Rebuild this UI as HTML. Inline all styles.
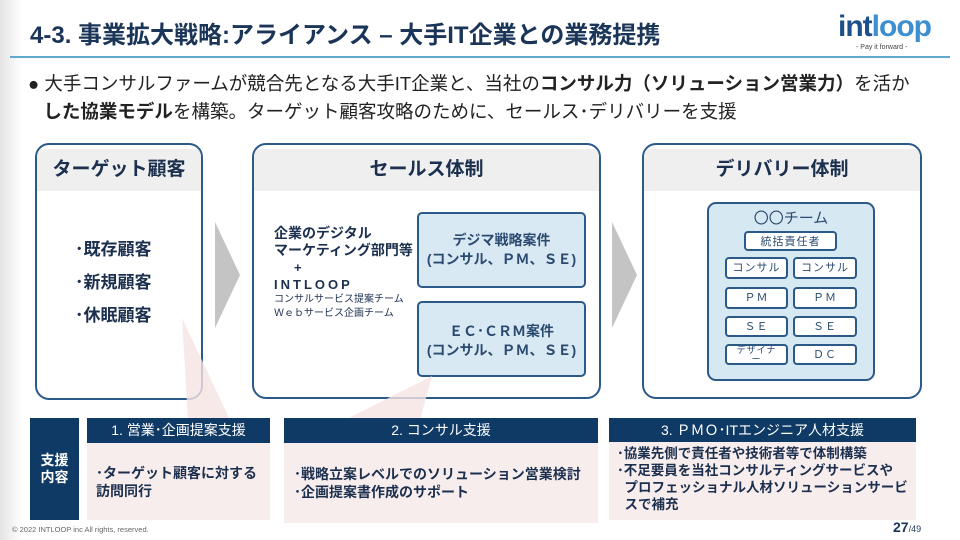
<!DOCTYPE html>
<html><head><meta charset="utf-8">
<style>
*{margin:0;padding:0;box-sizing:border-box}
body{width:960px;height:540px;overflow:hidden;background:#fff;font-family:"Liberation Sans","Noto Sans CJK JP",sans-serif;position:relative;color:#1b2f4e}
.a{position:absolute;white-space:nowrap}
.box{position:absolute;border:2px solid #2c5a88;border-radius:14px;background:#fff;overflow:hidden}
.hd{position:absolute;left:0;right:0;top:4px;height:42px;background:#efefef;text-align:center;font-weight:bold;font-size:19px;line-height:42px;color:#1b2f4e}
.sb{position:absolute;border:2px solid #2c5a88;border-radius:5px;background:#d9e9f3;text-align:center;font-size:14px;font-weight:bold;color:#2a4a70;line-height:19px}
.c{position:absolute;border:2px solid #2c5a88;border-radius:4px;background:#fff;text-align:center;font-size:11px;color:#2a4a70;line-height:18px;letter-spacing:1px}
.bar{position:absolute;background:#0f3a66;color:#fff;text-align:center;font-size:14px;line-height:25px}
.pk{position:absolute;background:#f8eded}
</style></head><body>
<div class="a" style="left:0;top:0;width:22px;height:540px;background:linear-gradient(90deg,#e4e4e4,#fff)"></div>
<div class="a" style="left:30px;top:15px;font-size:24px;font-weight:bold;color:#1b3558">4-3. 事業拡大戦略:アライアンス – 大手IT企業との業務提携</div>
<div class="a" style="left:10px;top:56px;width:940px;height:2px;background:#5ea9cf"></div>
<div class="a" style="left:838px;top:10px;font-size:30px;font-weight:bold;color:#1d4f8a;letter-spacing:-1px">int<span style="color:#3d8fd0">loop</span></div>
<div class="a" style="left:856px;top:44px;font-size:7px;color:#444">- Pay it forward -</div>
<div class="a" style="left:28px;top:70px;font-size:18.5px;line-height:28px;color:#222">● 大手コンサルファームが競合先となる大手IT企業と、当社の<b>コンサル力（ソリューション営業力）</b>を活か<br>&nbsp;&nbsp;&nbsp;<b>した協業モデル</b>を構築。ターゲット顧客攻略のために、セールス･デリバリーを支援</div>

<svg class="a" style="left:0;top:0" width="960" height="540">
<polygon points="215,222 240,275 215,328" fill="#c4c4c4"/>
<polygon points="612,222 637,275 612,328" fill="#c4c4c4"/>
</svg>

<div class="box" style="left:35px;top:143px;width:168px;height:257px"><div class="hd">ターゲット顧客</div>
<div class="a" style="left:38px;top:88px;font-size:17px;font-weight:bold;line-height:33px">･既存顧客<br>･新規顧客<br>･休眠顧客</div></div>

<div class="box" style="left:252px;top:143px;width:349px;height:256px"><div class="hd">セールス体制</div>
<div class="a" style="left:20px;top:80px;font-size:14px;font-weight:bold;line-height:17px">企業のデジタル<br>マーケティング部門等</div>
<div class="a" style="left:40px;top:115px;font-size:13px;font-weight:bold">+</div>
<div class="a" style="left:20px;top:132px;font-size:13px;font-weight:bold;letter-spacing:3px">INTLOOP</div>
<div class="a" style="left:20px;top:148px;font-size:10px;line-height:14px">コンサルサービス提案チーム<br>Ｗｅｂサービス企画チーム</div>
<div class="sb" style="left:163px;top:67px;width:169px;height:76px;padding-top:17px">デジマ戦略案件<br>(コンサル、ＰＭ、ＳＥ)</div>
<div class="sb" style="left:163px;top:156px;width:169px;height:76px;padding-top:19px">ＥＣ･ＣＲＭ案件<br>(コンサル、ＰＭ、ＳＥ)</div>
</div>

<div class="box" style="left:642px;top:143px;width:280px;height:256px"><div class="hd">デリバリー体制</div>
<div class="a" style="left:63px;top:57px;width:168px;height:179px;border:2px solid #2c5a88;border-radius:9px;background:#d6e8f2"></div>
<div class="a" style="left:63px;top:62px;width:168px;text-align:center;font-size:15px;color:#2a4a70">〇〇チーム</div>
<div class="c" style="left:100px;top:86px;width:93px;height:20px">統括責任者</div>
<div class="c" style="left:81px;top:112px;width:63px;height:22px">コンサル</div>
<div class="c" style="left:149px;top:112px;width:64px;height:22px">コンサル</div>
<div class="c" style="left:81px;top:142px;width:63px;height:22px">ＰＭ</div>
<div class="c" style="left:149px;top:142px;width:64px;height:22px">ＰＭ</div>
<div class="c" style="left:81px;top:171px;width:63px;height:21px">ＳＥ</div>
<div class="c" style="left:149px;top:171px;width:64px;height:21px">ＳＥ</div>
<div class="c" style="left:81px;top:199px;width:63px;height:21px;font-size:9px;line-height:9px">デザイナ<br>ー</div>
<div class="c" style="left:149px;top:199px;width:64px;height:21px">ＤＣ</div>
</div>

<svg class="a" style="left:0;top:0" width="960" height="540">
<polygon points="182,318 188,420 230,420" fill="#f6e4e4" opacity="0.8"/>
<polygon points="432,376 345,420 420,420" fill="#f6e4e4" opacity="0.8"/>
</svg>

<div class="a" style="left:30px;top:418px;width:49px;height:102px;background:#0f3a66;color:#fff;font-size:14px;font-weight:bold;text-align:center;line-height:17px;padding-top:34px">支援<br>内容</div>
<div class="bar" style="left:87px;top:418px;width:183px">1. 営業･企画提案支援</div>
<div class="pk" style="left:87px;top:443px;width:183px;height:77px"></div>
<div class="a" style="left:96px;top:464px;font-size:14px;font-weight:bold;line-height:18px">･ターゲット顧客に対する<br>訪問同行</div>
<div class="bar" style="left:284px;top:418px;width:314px">2. コンサル支援</div>
<div class="pk" style="left:284px;top:443px;width:314px;height:80px"></div>
<div class="a" style="left:294px;top:465px;font-size:14px;font-weight:bold;line-height:18px">･戦略立案レベルでのソリューション営業検討<br>･企画提案書作成のサポート</div>
<div class="bar" style="left:609px;top:418px;width:307px;height:24px;line-height:24px">3. ＰＭＯ･ITエンジニア人材支援</div>
<div class="pk" style="left:609px;top:442px;width:307px;height:78px"></div>
<div class="a" style="left:617px;top:445px;font-size:13.5px;font-weight:bold;line-height:17px">･協業先側で責任者や技術者等で体制構築<br>･不足要員を当社コンサルティングサービスや<br>&nbsp;&nbsp;プロフェッショナル人材ソリューションサービ<br>&nbsp;&nbsp;スで補充</div>

<div class="a" style="left:12px;top:525px;font-size:7.5px;color:#666">© 2022 INTLOOP inc All rights, reserved.</div>
<div class="a" style="left:893px;top:519px;font-size:14px;font-weight:bold;color:#1b3558">27<span style="font-size:9px;font-weight:normal">/49</span></div>
</body></html>
